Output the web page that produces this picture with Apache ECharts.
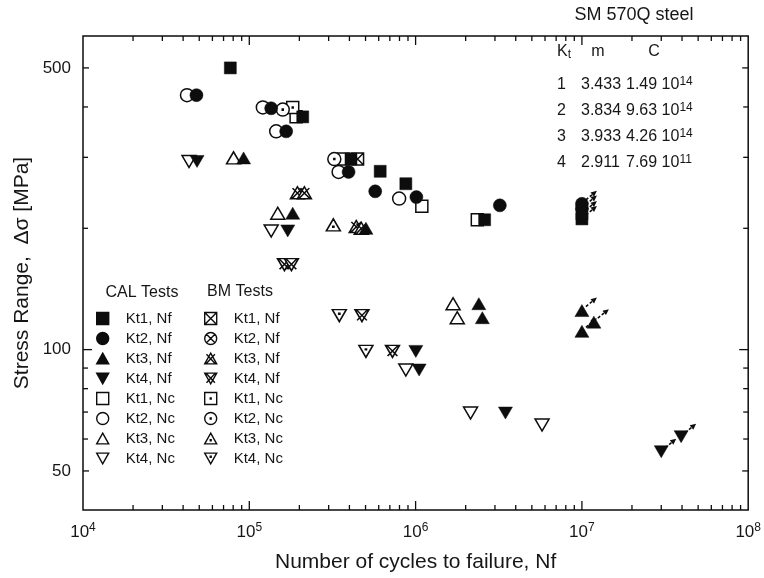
<!DOCTYPE html>
<html><head><meta charset="utf-8">
<script src="https://cdn.jsdelivr.net/npm/echarts@6/dist/echarts.min.js"></script>
<style>html,body{margin:0;padding:0;background:#fff}#c{width:764px;height:578px}</style>
</head><body><div id="c"></div>
<script>
// ---- data: [cycles N, stress range MPa] ----
const calKt1Nf = [[76900,500],[209500,378],[408700,297],[612400,277],[873500,258],[2600000,210]];
const calKt1NfRunout = [[10000000,211],[10000000,217]];
const calKt2Nf = [[48100,428],[135400,397],[166600,348],[395400,276],[571600,247],[1011000,239],[3210000,228]];
const calKt2NfRunout = [[10000000,224],[10000000,230]];
const calKt3Nf = [[92400,299],[182400,218],[502700,200],[2400000,130],[2520000,120]];
const calKt3NfRunout = [[10000000,111],[11800000,117],[10000000,125]];
const calKt4Nf = [[48500,293],[170300,197],[1003000,99],[1050000,89],[3470000,69.6]];
const calKt4NfRunout = [[30000000,55.8],[39500000,60.8]];
const calKt1Nc = [[191200,378],[369000,297],[1090000,227],[2350000,210]];
const calKt2Nc = [[42200,428],[120600,399],[145100,348],[344400,276],[796200,237]];
const calKt3Nc = [[80400,299],[148300,218],[1680000,130],[1780000,120]];
const calKt4Nc = [[43400,293],[135400,197],[873500,89],[2140000,69.6],[5760000,65]];
const bmKt1Nf = [[447700,297]];
const bmKt2Nf = [];
const bmKt3Nf = [[194700,245],[214400,245],[439700,202],[471100,200]];
const bmKt4Nf = [[162700,162.5],[179200,162.5],[475700,121.4],[726000,99]];
const bmKt1Nc = [[182400,399]];
const bmKt2Nc = [[158900,394],[324500,297]];
const bmKt3Nc = [[320100,204]];
const bmKt4Nc = [[347700,121.4],[502700,99]];

// ---- axes / ticks ----
const xMin = 1e4, xMax = 1e8, yMin = 40, yMax = 600;
const xMajorTicks = [1e4,1e5,1e6,1e7,1e8];
const yTickLabels = [50,100,500];
const yMinorTicks = [60,70,80,90,200,300,400];

// ---- table text ----
const tableKt = ['1','2','3','4'];
const tableM = ['3.433','3.834','3.933','2.911'];
const tableC = ['1.49','9.63','4.26','7.69'];
const tableExp = ['14','14','14','11'];

const FONT = '"Liberation Sans", Arial, Helvetica, sans-serif';
const INK = '#0d0d0d';
const TXT = '#161616';

const SYM = {
  sq: 'rect',
  ci: 'circle',
  tu: 'path://M5,0 L10,9 L0,9 Z',
  td: 'path://M0,0 L10,0 L5,9 Z',
  sqX: 'path://M0,0 L10,0 L10,10 L0,10 Z M0,0 L10,10 M10,0 L0,10',
  ciX: 'path://M10,5 A5,5 0 1,1 0,5 A5,5 0 1,1 10,5 Z M1.5,1.5 L8.5,8.5 M8.5,1.5 L1.5,8.5',
  tuX: 'path://M5,0 L10,9 L0,9 Z M1.5,1 L9,9 M8.5,1 L1,9',
  tdX: 'path://M0,0 L10,0 L5,9 Z M1,0 L8.5,8 M9,0 L1.5,8',
  sqD: 'path://M0,0 L10,0 L10,10 L0,10 Z M4.6,4.6 L5.4,4.6 L5.4,5.4 L4.6,5.4 Z',
  ciD: 'path://M10,5 A5,5 0 1,1 0,5 A5,5 0 1,1 10,5 Z M4.6,4.6 L5.4,4.6 L5.4,5.4 L4.6,5.4 Z',
  tuD: 'path://M5,0 L10,9 L0,9 Z M4.6,5.6 L5.4,5.6 L5.4,6.4 L4.6,6.4 Z',
  tdD: 'path://M0,0 L10,0 L5,9 Z M4.6,2.6 L5.4,2.6 L5.4,3.4 L4.6,3.4 Z'
};
const SIZE = {sq:[12,12], ci:[13,13], tu:[14,12], td:[14,12], sqX:[12,12], ciX:[13,13], tuX:[14,12], tdX:[14,12], sqD:[12,12], ciD:[13,13], tuD:[14,12], tdD:[14,12]};

function sc(name, data, sym, filled) {
  return {
    name, type: 'scatter', data, symbol: SYM[sym], symbolSize: SIZE[sym],
    itemStyle: filled ? {color: INK, borderColor: INK, borderWidth: 0.5, opacity: 1}
                      : {color: '#fff', borderColor: INK, borderWidth: 1.5, opacity: 1},
    emphasis: {disabled: true}, silent: true, z: filled ? 4 : 3
  };
}

const calNames = ['CAL Kt1, Nf','CAL Kt2, Nf','CAL Kt3, Nf','CAL Kt4, Nf','CAL Kt1, Nc','CAL Kt2, Nc','CAL Kt3, Nc','CAL Kt4, Nc'];
const bmNames = ['BM Kt1, Nf','BM Kt2, Nf','BM Kt3, Nf','BM Kt4, Nf','BM Kt1, Nc','BM Kt2, Nc','BM Kt3, Nc','BM Kt4, Nc'];

const series = [
  sc('CAL Kt1, Nc', calKt1Nc, 'sq', false),
  sc('CAL Kt2, Nc', calKt2Nc, 'ci', false),
  sc('CAL Kt3, Nc', calKt3Nc, 'tu', false),
  sc('CAL Kt4, Nc', calKt4Nc, 'td', false),
  sc('BM Kt1, Nf', bmKt1Nf, 'sqX', false),
  sc('BM Kt2, Nf', bmKt2Nf, 'ciX', false),
  sc('BM Kt3, Nf', bmKt3Nf, 'tuX', false),
  sc('BM Kt4, Nf', bmKt4Nf, 'tdX', false),
  sc('BM Kt1, Nc', bmKt1Nc, 'sqD', false),
  sc('BM Kt2, Nc', bmKt2Nc, 'ciD', false),
  sc('BM Kt3, Nc', bmKt3Nc, 'tuD', false),
  sc('BM Kt4, Nc', bmKt4Nc, 'tdD', false),
  sc('CAL Kt1, Nf', calKt1Nf.concat(calKt1NfRunout), 'sq', true),
  sc('CAL Kt2, Nf', calKt2Nf.concat(calKt2NfRunout), 'ci', true),
  sc('CAL Kt3, Nf', calKt3Nf.concat(calKt3NfRunout), 'tu', true),
  sc('CAL Kt4, Nf', calKt4Nf.concat(calKt4NfRunout), 'td', true),
  {
    name: 'runout arrows', type: 'custom', coordinateSystem: 'cartesian2d', silent: true, z: 5,
    data: calKt1NfRunout.concat(calKt2NfRunout, calKt3NfRunout, calKt4NfRunout),
    renderItem(params, api) {
      const p = api.coord([api.value(0), api.value(1)]);
      const x0 = p[0] + 4, y0 = p[1] - 4, x1 = p[0] + 15, y1 = p[1] - 13;
      const ang = Math.atan2(y1 - y0, x1 - x0);
      const hl = 6, hw = 2.8;
      const bx = x1 - hl * Math.cos(ang), by = y1 - hl * Math.sin(ang);
      const px = -Math.sin(ang) * hw, py = Math.cos(ang) * hw;
      return {type: 'group', children: [
        {type: 'line', shape: {x1: x0, y1: y0, x2: bx, y2: by}, style: {stroke: INK, lineWidth: 1.6, lineDash: [3, 2]}},
        {type: 'polygon', shape: {points: [[x1, y1], [bx + px, by + py], [bx - px, by - py]]}, style: {fill: INK}}
      ]};
    }
  },
  {
    name: 'frame ticks', type: 'custom', coordinateSystem: 'cartesian2d', silent: true, z: 6, clip: false,
    data: [[xMin, yMin]],
    renderItem(params, api) {
      const ch = [];
      const L = (a, b) => ch.push({type: 'line', shape: {x1: a[0], y1: a[1], x2: b[0], y2: b[1]}, style: {stroke: INK, lineWidth: 1.3}});
      const xt = [];
      xMajorTicks.forEach((m, i) => {
        if (i > 0 && i < xMajorTicks.length - 1) xt.push([m, 9]);
        if (i < xMajorTicks.length - 1) for (let k = 2; k <= 9; k++) xt.push([m * k, 5]);
      });
      xt.forEach(([v, len]) => {
        const b = api.coord([v, yMin]), t = api.coord([v, yMax]);
        L(b, [b[0], b[1] - len]); L(t, [t[0], t[1] + len]);
      });
      const yt = yMinorTicks.map(v => [v, 5]).concat(yTickLabels.map(v => [v, v === 100 ? 9 : 6]));
      yt.forEach(([v, len]) => {
        const l = api.coord([xMin, v]), r = api.coord([xMax, v]);
        L(l, [l[0] + len, l[1]]); L(r, [r[0] - len, r[1]]);
      });
      yTickLabels.forEach(v => {
        const p = api.coord([xMin, v]);
        ch.push({type: 'text', style: {text: String(v), x: p[0] - 12, y: p[1], align: 'right', verticalAlign: 'middle', fontSize: 17, fontFamily: FONT, fill: TXT}});
      });
      return {type: 'group', children: ch};
    }
  }
];

const legendCommon = {
  orient: 'vertical', itemWidth: 12, itemHeight: 12, itemGap: 5, padding: 0, selectedMode: false,
  formatter: n => n.replace(/^(CAL|BM) /, ''),
  itemStyle: {borderWidth: 1.4, opacity: 1},
  textStyle: {fontSize: 15, fontFamily: FONT, color: TXT, lineHeight: 15, padding: [0, 0, 0, 12]}
};

const tableGraphics = [];
const tx = (text, x, y, align, rich, size) => tableGraphics.push({
  type: 'text', x: 0, y: 0, silent: true,
  style: {text, x, y, align, textAlign: align, verticalAlign: 'middle', textVerticalAlign: 'middle', fontSize: size || 16, fontFamily: FONT, fill: TXT, rich}
});
const supRich = {
  b: {fontSize: 16, fontFamily: FONT, color: TXT, lineHeight: 18},
  s: {fontSize: 12, fontFamily: FONT, color: TXT, lineHeight: 11, verticalAlign: 'top'},
  u: {fontSize: 12, fontFamily: FONT, color: TXT, lineHeight: 10, verticalAlign: 'bottom'}
};
tx('SM 570Q steel', 634, 15, 'center', null, 18);
tx('{b|K}{u|t}', 557, 52, 'left', supRich);
tx('m', 598, 52, 'center');
tx('C', 654, 52, 'center');
const rowY = [85, 111, 137, 163];
tableKt.forEach((k, i) => {
  tx(k, 557, rowY[i], 'left');
  tx(tableM[i], 581, rowY[i], 'left');
  tx('{b|' + tableC[i] + ' 10}{s|' + tableExp[i] + '}', 626, rowY[i], 'left', supRich);
});
tx('CAL Tests', 142, 293, 'center', null, 16);
tx('BM Tests', 240, 292, 'center', null, 16);

const option = {
  animation: false,
  backgroundColor: '#fff',
  grid: {left: 83, right: 14, top: 36, bottom: 68, show: true, borderColor: INK, borderWidth: 1.5, backgroundColor: 'transparent'},
  xAxis: {
    type: 'log', logBase: 10, min: xMin, max: xMax,
    name: 'Number of cycles to failure, Nf', nameLocation: 'middle', nameGap: 42,
    nameTextStyle: {fontSize: 21, fontFamily: FONT, color: TXT},
    axisLine: {show: false}, axisTick: {show: false}, splitLine: {show: false}, minorTick: {show: false},
    axisLabel: {
      margin: 12,
      formatter: v => '{b|10}{s|' + Math.round(Math.log10(v)) + '}',
      rich: {
        b: {fontSize: 17, fontFamily: FONT, color: TXT, lineHeight: 20},
        s: {fontSize: 12, fontFamily: FONT, color: TXT, lineHeight: 11, verticalAlign: 'top'}
      }
    }
  },
  yAxis: {
    type: 'log', logBase: 10, min: yMin, max: yMax,
    name: 'Stress Range,  Δσ [MPa]', nameLocation: 'middle', nameGap: 50, nameRotate: 90,
    nameTextStyle: {fontSize: 21, fontFamily: FONT, color: TXT},
    axisLine: {show: false}, axisTick: {show: false}, splitLine: {show: false}, axisLabel: {show: false}
  },
  legend: [
    Object.assign({}, legendCommon, {data: calNames, left: 96, top: 311}),
    Object.assign({}, legendCommon, {data: bmNames, left: 204, top: 311})
  ],
  graphic: tableGraphics,
  series
};

const chart = echarts.init(document.getElementById('c'), null, {renderer: 'canvas'});
chart.setOption(option);
</script>
</body></html>
